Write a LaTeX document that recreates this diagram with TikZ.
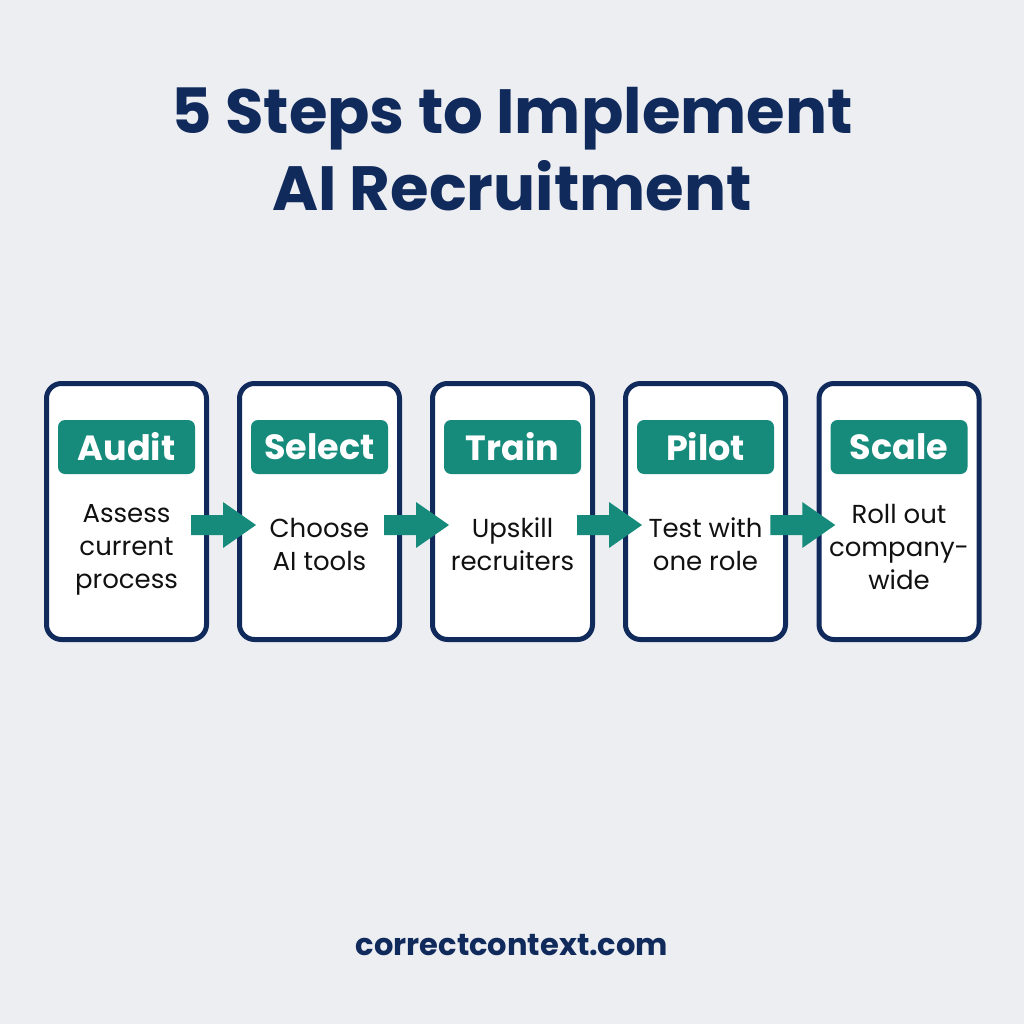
\documentclass[tikz,border=0pt]{standalone}
\usepackage{fontspec}
\setmainfont{Poppins}
\definecolor{bg}{HTML}{ECEEF2}
\definecolor{navy}{HTML}{112A5C}
\definecolor{teal}{HTML}{168B7B}
\definecolor{ink}{HTML}{111111}
\tikzset{
  card/.style={draw=navy, line width=5pt, fill=white, rounded corners=15pt, minimum width=160pt, minimum height=256pt, inner sep=0pt},
  pill/.style={fill=teal, rounded corners=7pt, minimum width=137pt, minimum height=54pt, text=white, font=\fontsize{35}{38}\selectfont\bfseries, inner sep=0pt},
  desc/.style={text=ink, align=center, font=\fontsize{26}{33}\selectfont, inner sep=0pt},
  flow/.style={fill=teal}
}
\begin{document}
\begin{tikzpicture}[x=1pt,y=-1pt]
\fill[bg] (0,0) rectangle (1024,1024);
\useasboundingbox (0,0) rectangle (1024,1024);
\node[text=navy, font=\fontsize{62.5}{77}\selectfont\bfseries, align=center] (title) at (512,149) {5 Steps to Implement\\AI Recruitment};
\foreach \i/\x/\h/\y/\t in {1/126.5/Audit/550/{Assess\\current\\process},2/319.5/Select/544/{Choose\\AI tools},3/512.5/Train/544/{Upskill\\recruiters},4/705.5/Pilot/544/{Test with\\one role},5/899/Scale/547/{Roll out\\company-\\wide}}{
  \node[card] (c\i) at (\x,511.5) {};
  \node[pill] (p\i) at (\x,447) {\h};
  \node[desc] (d\i) at (\x,\y) {\t};
}
\foreach \a/\b in {1/2,2/3,3/4,4/5}{
  \path (c\a.east) -- (c\b.west) coordinate[midway] (m\a);
  \coordinate (k\a) at ([yshift=-13.5pt]m\a);
  \fill[flow] ([shift={(-32,-10)}]k\a) -- ([shift={(0,-10)}]k\a) -- ([shift={(0,-23)}]k\a)
     -- ([shift={(33,0)}]k\a) -- ([shift={(0,23)}]k\a) -- ([shift={(0,10)}]k\a)
     -- ([shift={(-32,10)}]k\a) -- cycle;
}
\node[text=navy, font=\fontsize{30.5}{34}\selectfont\bfseries] (foot) at (512,945) {correctcontext.com};
\end{tikzpicture}
\end{document}
